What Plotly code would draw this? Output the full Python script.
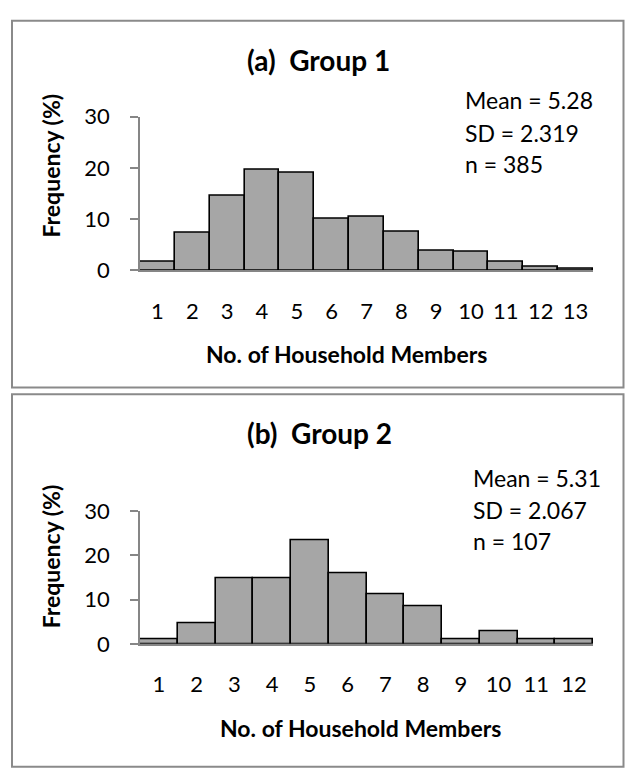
import plotly.graph_objects as go

W, H = 625, 772

# ---- data ----
members_a = [str(i) for i in range(1, 14)]
freq_a = [1.6, 7.3, 14.5, 19.7, 19.0, 10.1, 10.4, 7.5, 3.9, 3.6, 1.6, 0.8, 0.3]
members_b = [str(i) for i in range(1, 13)]
freq_b = [0.93, 4.67, 14.95, 14.95, 23.4, 15.9, 11.2, 8.4, 0.93, 2.8, 0.93, 0.93]

title_a = "(a)  Group 1"
title_b = "(b)  Group 2"
stats_a = ["Mean = 5.28", "SD = 2.319", "n = 385"]
stats_b = ["Mean = 5.31", "SD = 2.067", "n = 107"]
ytitle = "Frequency (%)"
xtitle = "No. of Household Members"
yticks = [0, 10, 20, 30]

FONT = "Lato"
GRAY_AX = "#868686"

def px(x):
    return x / W

def py(y):
    return 1 - y / H

fig = go.Figure()
fig.add_trace(go.Bar(x=members_a, y=freq_a, xaxis="x", yaxis="y",
                     marker=dict(color="#a6a6a6", line=dict(color="black", width=1.6)),
                     showlegend=False))
fig.add_trace(go.Bar(x=members_b, y=freq_b, xaxis="x2", yaxis="y2",
                     marker=dict(color="#a6a6a6", line=dict(color="black", width=1.6)),
                     showlegend=False))

xdom = [px(140), px(593)]
xa = dict(domain=xdom, showline=True, linecolor=GRAY_AX, linewidth=2, ticks="",
          showgrid=False, zeroline=False, tickfont=dict(family=FONT, size=22, color="black"),
          ticklabelstandoff=20, fixedrange=True)
ya_common = dict(range=[0, 30], tickvals=yticks, showline=True, linecolor=GRAY_AX, linewidth=1.5,
                 ticks="outside", ticklen=8, tickcolor=GRAY_AX, tickwidth=1.5,
                 showgrid=False, zeroline=False,
                 tickfont=dict(family=FONT, size=22, color="black"), ticklabelstandoff=16)

fig.update_layout(
    width=W, height=H, margin=dict(l=0, r=0, t=0, b=0),
    paper_bgcolor="white", plot_bgcolor="white", bargap=0,
    xaxis=dict(**xa, anchor="y"),
    yaxis=dict(**ya_common, domain=[py(265.7), py(106.5)], anchor="x"),
    xaxis2=dict(**xa, anchor="y2"),
    yaxis2=dict(**ya_common, domain=[py(652.7), py(515.3)], anchor="x2"),
)

shapes = [
    dict(type="rect", xref="paper", yref="paper", x0=px(12), x1=px(623.5), y0=py(7), y1=py(387),
         line=dict(color="#8a8a8a", width=2)),
    dict(type="rect", xref="paper", yref="paper", x0=px(12), x1=px(623.5), y0=py(394), y1=py(780),
         line=dict(color="#8a8a8a", width=2)),
]
fig.update_layout(shapes=shapes)

ann = []
def text(x, y, s, size, bold=False, xanchor="center", angle=0):
    ann.append(dict(x=px(x), y=py(y), xref="paper", yref="paper", text=f"<b>{s}</b>" if bold else s,
                    showarrow=False, xanchor=xanchor, yanchor="middle", textangle=angle,
                    font=dict(family=FONT, size=size, color="black")))

# panel a
text(318, 48, title_a, 28, bold=True)
for s, yy in zip(stats_a, [89, 123, 155]):
    text(463, yy, s, 23, xanchor="left")
text(51, 157, ytitle, 23, bold=True, angle=-90)
text(346, 352, xtitle, 23, bold=True)
# panel b
text(319, 434, title_b, 28, bold=True)
for s, yy in zip(stats_b, [481, 514, 546]):
    text(471, yy, s, 23, xanchor="left")
text(51, 562, ytitle, 23, bold=True, angle=-90)
text(360, 740, xtitle, 23, bold=True)

fig.update_layout(annotations=ann)
fig.write_html("out.html")
